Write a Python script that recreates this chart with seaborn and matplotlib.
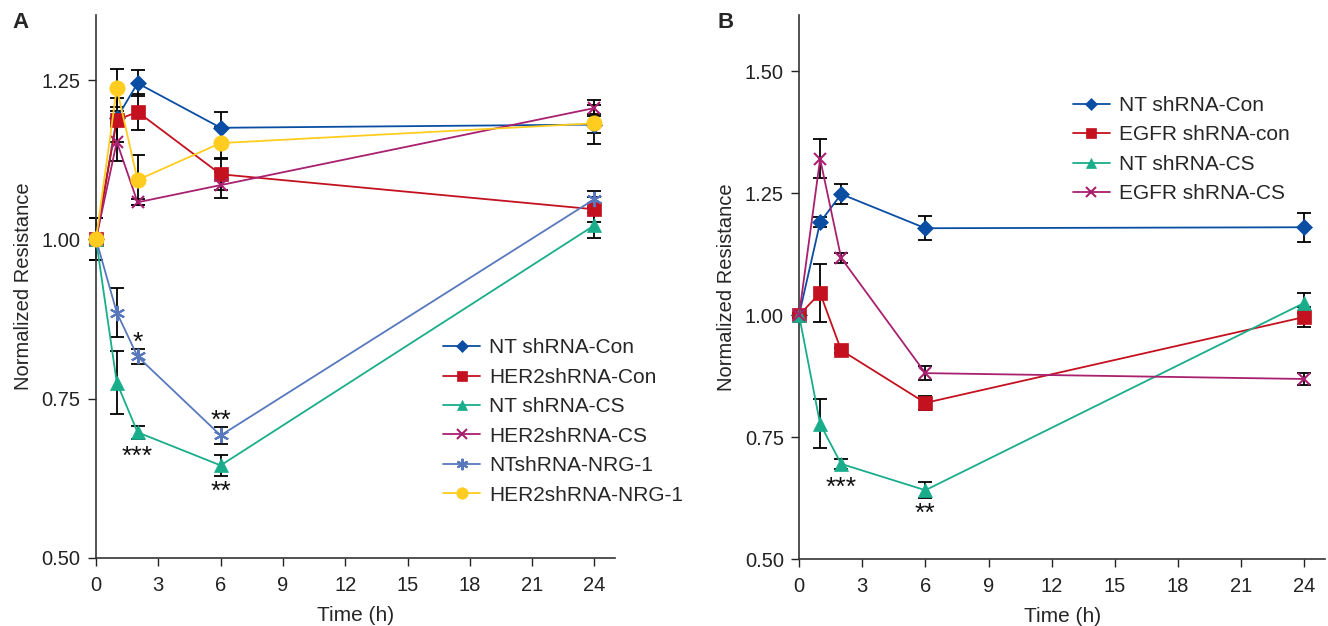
import matplotlib
matplotlib.use('Agg')
import matplotlib.pyplot as plt
import seaborn as sns

# time points (h)
times = [0, 1, 2, 6, 24]

# Panel A: HER2 knockdown
labels_a = ['NT shRNA-Con', 'HER2shRNA-Con', 'NT shRNA-CS', 'HER2shRNA-CS', 'NTshRNA-NRG-1', 'HER2shRNA-NRG-1']
means_a = [
    [1.00, 1.190, 1.245, 1.175, 1.180],
    [1.00, 1.187, 1.200, 1.102, 1.047],
    [1.00, 0.775, 0.697, 0.645, 1.022],
    [1.00, 1.153, 1.058, 1.085, 1.206],
    [1.00, 0.885, 0.816, 0.692, 1.063],
    [1.00, 1.237, 1.093, 1.151, 1.182],
]
errs_a = [
    [0.033, 0.012, 0.020, 0.025, 0.030],
    [0.033, 0.035, 0.028, 0.025, 0.020],
    [0.033, 0.050, 0.010, 0.016, 0.020],
    [0.033, 0.030, 0.005, 0.020, 0.012],
    [0.033, 0.038, 0.012, 0.013, 0.012],
    [0.033, 0.030, 0.040, 0.025, 0.015],
]
# significance marks: (time, baseline level, text)
stars_a = [(2, 0.827, '*'), (2, 0.647, '***'), (6, 0.704, '**'), (6, 0.593, '**')]

# Panel B: EGFR knockdown
labels_b = ['NT shRNA-Con', 'EGFR shRNA-con', 'NT shRNA-CS', 'EGFR shRNA-CS']
means_b = [
    [1.00, 1.190, 1.248, 1.178, 1.180],
    [1.00, 1.045, 0.928, 0.820, 0.996],
    [1.00, 0.777, 0.695, 0.641, 1.025],
    [1.00, 1.320, 1.117, 0.881, 0.869],
]
errs_b = [
    [0.005, 0.010, 0.020, 0.025, 0.030],
    [0.005, 0.060, 0.005, 0.015, 0.020],
    [0.005, 0.050, 0.010, 0.016, 0.020],
    [0.005, 0.040, 0.010, 0.015, 0.012],
]
stars_b = [(2, 0.632, '***'), (6, 0.579, '**')]

blue = '#0a4ea3'
red = '#c4111f'
green = '#1aad8b'
magenta = '#a8206f'
steel = '#5878bd'
yellow = '#ffcc1f'

styles_a = [(blue, 'D', 8), (red, 's', 10), (green, '^', 10), (magenta, 'x', 9), (steel, (6, 2, 0), 11), (yellow, 'o', 11)]
styles_b = [(blue, 'D', 8), (red, 's', 10), (green, '^', 10), (magenta, 'x', 9)]

sns.set_style('ticks')
plt.rcParams['font.family'] = ['Liberation Sans', 'DejaVu Sans']

fig = plt.figure(figsize=(13.28, 6.26), dpi=100)
ax_a = fig.add_axes([0.0723, 0.109, 0.391, 0.867])
ax_b = fig.add_axes([0.6017, 0.107, 0.3963, 0.869])


def draw_panel(ax, labels, means, errs, styles, stars, ylim, yticks, leg_pos):
    for lab, m, e, (c, mk, ms) in zip(labels, means, errs, styles):
        ax.errorbar(times, m, yerr=e, fmt='none', ecolor='black', elinewidth=1.3,
                    capsize=5, capthick=1.3, zorder=2, clip_on=False)
        sns.lineplot(x=times, y=m, ax=ax, color=c, marker=mk, markersize=ms,
                     markeredgecolor=c, markeredgewidth=1.5 if mk in ('x', (6, 2, 0)) else 0.5,
                     linewidth=1.3, label=lab, zorder=3, clip_on=False)
    for x, y, s in stars:
        ax.text(x, y, s, ha='center', va='baseline', fontsize=19, color='#111111')
    ax.set_xlim(0, 25)
    ax.set_ylim(*ylim)
    ax.set_xticks(range(0, 25, 3))
    ax.set_yticks(yticks)
    ax.set_yticklabels([f'{t:.2f}' for t in yticks])
    ax.tick_params(labelsize=14.5, length=6, width=1, colors='#222222', pad=5)
    ax.tick_params(axis='x', pad=7)
    ax.set_xlabel('Time (h)', fontsize=15, labelpad=8)
    ax.set_ylabel('Normalized Resistance', fontsize=14.5, labelpad=6)
    sns.despine(ax=ax)
    for sp in ('left', 'bottom'):
        ax.spines[sp].set_linewidth(1.2)
        ax.spines[sp].set_color('#333333')
    ax.legend(loc='upper left', bbox_to_anchor=leg_pos, frameon=False, fontsize=15,
              handlelength=1.75, handletextpad=0.45, labelspacing=0.5, markerscale=0.75,
              borderpad=0, borderaxespad=0)


draw_panel(ax_a, labels_a, means_a, errs_a, styles_a, stars_a, (0.5, 1.352),
           [0.5, 0.75, 1.0, 1.25], (0.669, 0.404))
draw_panel(ax_b, labels_b, means_b, errs_b, styles_b, stars_b, (0.5, 1.615),
           [0.5, 0.75, 1.0, 1.25, 1.5], (0.521, 0.851))

fig.text(0.009, 0.955, 'A', fontsize=16, fontweight='bold')
fig.text(0.54, 0.955, 'B', fontsize=16, fontweight='bold')

fig.savefig('out.png', dpi=100)
